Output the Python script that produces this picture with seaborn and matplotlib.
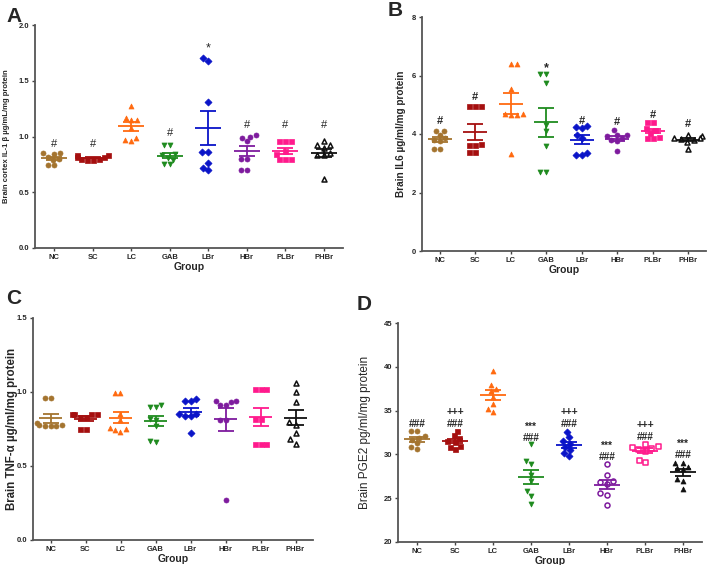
import numpy as np
import pandas as pd
import matplotlib
matplotlib.use('Agg')
import matplotlib.pyplot as plt
import seaborn as sns

groups = ['NC', 'SC', 'LC', 'GAB', 'LBr', 'HBr', 'PLBr', 'PHBr']
colors = ['#A4742F', '#A50F0F', '#FF6A10', '#1F8B1F', '#0A14C8', '#7E1B9E', '#FF1A8C', '#111111']

# Panel A - IL-1 beta
il1b = {
    'NC': [0.85, 0.84, 0.85, 0.82, 0.80, 0.79, 0.74, 0.74],
    'SC': [0.83, 0.82, 0.83, 0.80, 0.79, 0.79, 0.80, 0.82],
    'LC': [1.27, 1.17, 1.15, 1.15, 1.08, 0.99, 0.97, 0.96],
    'GAB': [0.92, 0.92, 0.84, 0.83, 0.81, 0.79, 0.75, 0.75],
    'LBr': [1.70, 1.68, 1.31, 0.86, 0.86, 0.76, 0.72, 0.70],
    'HBr': [1.01, 1.00, 0.99, 0.96, 0.80, 0.80, 0.70, 0.70],
    'PLBr': [0.96, 0.96, 0.96, 0.87, 0.84, 0.80, 0.80, 0.80],
    'PHBr': [0.96, 0.92, 0.92, 0.90, 0.85, 0.83, 0.83, 0.62],
}
il1b_marks = {'NC': ('#', 0.93), 'SC': ('#', 0.93), 'GAB': ('#', 1.03), 'LBr': ('*', 1.79),
              'HBr': ('#', 1.10), 'PLBr': ('#', 1.10), 'PHBr': ('#', 1.10)}

# Panel B - IL6
il6 = {
    'NC': [4.10, 4.10, 3.95, 3.85, 3.80, 3.75, 3.50, 3.50],
    'SC': [4.97, 4.97, 4.97, 3.65, 3.62, 3.62, 3.40, 3.40],
    'LC': [6.40, 6.40, 5.55, 4.70, 4.68, 4.65, 4.65, 3.30],
    'GAB': [6.05, 6.05, 5.75, 4.30, 4.10, 3.60, 2.70, 2.70],
    'LBr': [4.28, 4.25, 4.22, 3.95, 3.85, 3.35, 3.28, 3.28],
    'HBr': [4.12, 3.97, 3.95, 3.92, 3.85, 3.78, 3.75, 3.42],
    'PLBr': [4.40, 4.40, 4.20, 4.15, 4.05, 3.90, 3.88, 3.88],
    'PHBr': [3.98, 3.92, 3.88, 3.85, 3.82, 3.78, 3.72, 3.50],
}
il6_marks = {'NC': ('#', 4.45), 'SC': ('#', 5.25), 'GAB': ('*', 6.25), 'LBr': ('#', 4.45),
             'HBr': ('#', 4.40), 'PLBr': ('#', 4.65), 'PHBr': ('#', 4.35)}

# Panel C - TNF-alpha
tnf = {
    'NC': [0.96, 0.96, 0.79, 0.78, 0.78, 0.77, 0.77, 0.77],
    'SC': [0.85, 0.85, 0.85, 0.85, 0.83, 0.83, 0.75, 0.75],
    'LC': [0.99, 0.99, 0.85, 0.81, 0.76, 0.75, 0.74, 0.73],
    'GAB': [0.91, 0.90, 0.90, 0.82, 0.81, 0.77, 0.66, 0.67],
    'LBr': [0.95, 0.94, 0.94, 0.85, 0.85, 0.84, 0.84, 0.72],
    'HBr': [0.94, 0.94, 0.93, 0.91, 0.91, 0.81, 0.81, 0.27],
    'PLBr': [1.02, 1.02, 1.02, 0.82, 0.82, 0.65, 0.65, 0.65],
    'PHBr': [1.06, 1.00, 0.93, 0.80, 0.78, 0.72, 0.68, 0.65],
}

# Panel D - PGE2
pge2 = {
    'NC': [32.7, 32.7, 32.1, 31.9, 31.6, 31.3, 30.8, 30.6],
    'SC': [32.7, 32.2, 31.9, 31.5, 31.4, 31.0, 30.9, 30.6],
    'LC': [39.5, 37.9, 37.5, 37.2, 36.6, 35.8, 35.2, 34.8],
    'GAB': [31.2, 29.3, 28.9, 27.7, 27.0, 25.8, 25.3, 24.3],
    'LBr': [32.6, 32.0, 31.5, 31.2, 30.9, 30.5, 30.2, 29.8],
    'HBr': [28.9, 27.6, 27.0, 26.8, 26.6, 25.6, 25.4, 24.2],
    'PLBr': [31.2, 31.0, 30.9, 30.7, 30.6, 30.4, 29.4, 29.1],
    'PHBr': [29.0, 29.0, 28.6, 28.4, 28.3, 27.2, 27.0, 26.1],
}
pge2_marks = {'NC': ['###'], 'SC': ['###', '+++'], 'GAB': ['###', '***'], 'LBr': ['###', '+++'],
              'HBr': ['###', '***'], 'PLBr': ['###', '+++'], 'PHBr': ['###', '***']}
pge2_mark_y = {'NC': 33.5, 'SC': 33.5, 'GAB': 31.9, 'LBr': 33.5, 'HBr': 29.7, 'PLBr': 32.0, 'PHBr': 29.9}

markers = ['o', 's', '^', 'v', 'D', 'o', 's', '^']
filled_abc = [True, True, True, True, True, True, True, False]
filled_d = [True, True, True, True, True, False, False, True]

sns.set_style('white')
plt.rcParams['font.family'] = ['Liberation Sans', 'DejaVu Sans']
plt.rcParams['font.weight'] = 'bold'

fig = plt.figure(figsize=(7.08, 5.65), dpi=100)


def draw_panel(ax, data, filled, ylim, yticks, ylabel, ylabel_size, ylabel_weight, label_x):
    for i, g in enumerate(groups):
        vals = data[g]
        face = colors[i] if filled[i] else 'white'
        sns.swarmplot(x=[g] * len(vals), y=vals, order=groups, ax=ax, color=face,
                      marker=markers[i], size=3.6, edgecolor=colors[i],
                      linewidth=0.5 if filled[i] else 1.1, zorder=3, warn_thresh=1)
        m = np.mean(vals)
        se = np.std(vals, ddof=1) / np.sqrt(len(vals))
        ax.hlines(m, i - 0.34, i + 0.34, color=colors[i], lw=1.3, zorder=4)
        ax.errorbar(i, m, yerr=se, color=colors[i], capsize=5.5, capthick=1.3,
                    elinewidth=1.3, fmt='none', zorder=4)
    ax.set_xlim(-0.5, 7.5)
    ax.set_ylim(*ylim)
    ax.set_yticks(yticks)
    ax.set_xlabel('Group', fontsize=7.5, fontweight='bold', labelpad=1)
    ax.set_ylabel(ylabel, fontsize=ylabel_size, fontweight=ylabel_weight)
    ax.yaxis.set_label_coords(label_x, 0.5)
    ax.tick_params(axis='both', labelsize=5.5, length=2.5, width=1, pad=1.5, color='#444444')
    for lab in ax.get_xticklabels() + ax.get_yticklabels():
        lab.set_fontweight('bold')
    sns.despine(ax=ax)
    for sp in ['left', 'bottom']:
        ax.spines[sp].set_color('#555555')
        ax.spines[sp].set_linewidth(1.3)
    ax.tick_params(axis='both', direction='out', left=True, bottom=True)


# A
axA = fig.add_axes([35 / 708, 1 - 248 / 565, 308 / 708, 223 / 565])
draw_panel(axA, il1b, filled_abc, (0, 2.0), [0.0, 0.5, 1.0, 1.5, 2.0],
           'Brain cortex IL-1 \u03b2 \u00b5g/mL/mg protein', 5.5, 'bold', -0.082)
axA.set_yticklabels(['0.0', '0.5', '1.0', '1.5', '2.0'])
for g, (t, y) in il1b_marks.items():
    axA.text(groups.index(g), y, t, ha='center', va='center', fontsize=8 if t == '#' else 9,
             fontweight='normal')

# B
axB = fig.add_axes([422 / 708, 1 - 251 / 565, 284 / 708, 234 / 565])
draw_panel(axB, il6, filled_abc, (0, 8), [0, 2, 4, 6, 8],
           'Brain IL6 \u00b5g/ml/mg protein', 7.2, 'bold', -0.055)
for g, (t, y) in il6_marks.items():
    axB.text(groups.index(g), y, t, ha='center', va='center', fontsize=8 if t == '#' else 9)

# C
axC = fig.add_axes([33 / 708, 1 - 540 / 565, 280 / 708, 222 / 565])
draw_panel(axC, tnf, filled_abc, (0, 1.5), [0.0, 0.5, 1.0, 1.5],
           'Brain TNF-\u03b1 \u00b5g/ml/mg protein', 8.3, 'bold', -0.055)
axC.set_yticklabels(['0.0', '0.5', '1.0', '1.5'])

# D
axD = fig.add_axes([398 / 708, 1 - 542 / 565, 304 / 708, 219 / 565])
draw_panel(axD, pge2, filled_d, (20, 45), [20, 25, 30, 35, 40, 45],
           'Brain PGE2 pg/ml/mg protein', 8.5, 'normal', -0.088)
for g, marks in pge2_marks.items():
    base = pge2_mark_y[g]
    for k, t in enumerate(marks):
        axD.text(groups.index(g), base + k * 1.3, t, ha='center', va='center', fontsize=7.3,
                 fontweight='bold')

for lab, (x, y) in zip('ABCD', [(6, 16), (388, 11), (6, 298), (357, 305)]):
    fig.text(x / 708, 1 - y / 565, lab, fontsize=15, fontweight='bold', va='center', ha='left')

fig.savefig('out.png', dpi=100)
